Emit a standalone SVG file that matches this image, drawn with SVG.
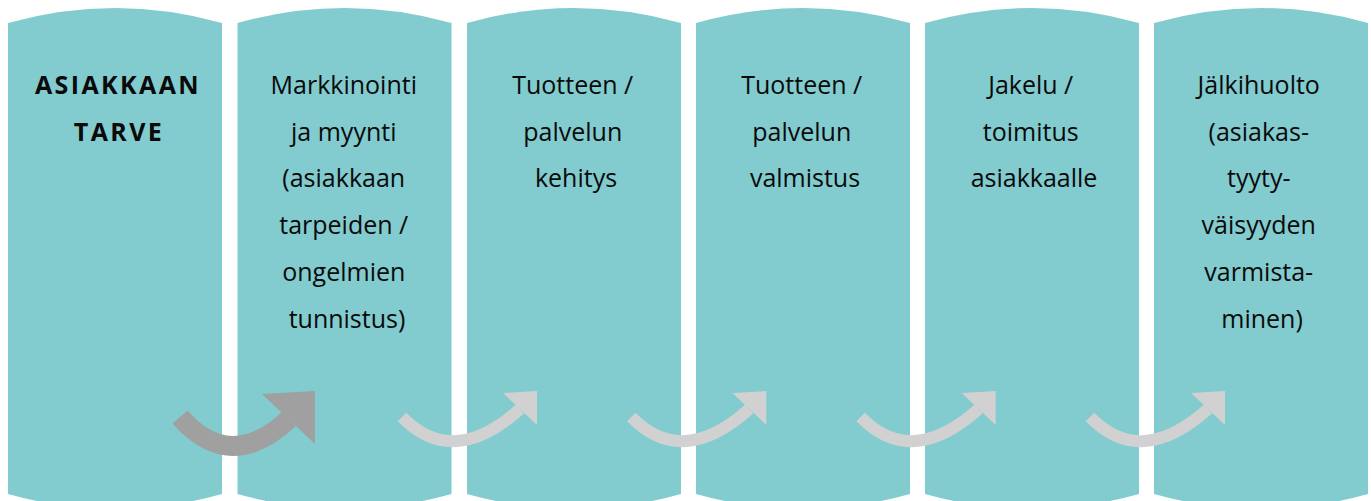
<svg xmlns="http://www.w3.org/2000/svg" width="1371" height="501" viewBox="0 0 1371 501">
  <defs>
    <style>
      .panel { fill: #82CBCE; }
      .lbl { font-family: "Open Sans", "Liberation Sans", sans-serif; font-size: 25px; fill: #0A0A0A; text-anchor: middle; }
      .head { font-weight: bold; letter-spacing: 2.4px; }
      .dark { fill: none; stroke: #A0A0A0; stroke-width: 20; }
      .darkhead { fill: #A0A0A0; }
      .light { fill: none; stroke: #D1D1D1; stroke-width: 12; }
      .lighthead { fill: #D1D1D1; }
    </style>
    <path id="panelShape" class="panel" d="M0,23 Q107,-7 214,23 L214,494 Q107,524 0,494 Z"/>
    <g id="lightArrow">
      <path class="light" d="M402,417 Q453,469 520,409"/>
      <polygon class="lighthead" points="503,393 537,391 537,425"/>
    </g>
  </defs>

  <!-- process stages -->
  <g id="stage1">
    <use href="#panelShape" x="8"/>
    <text class="lbl head" x="118" y="94">ASIAKKAAN</text>
    <text class="lbl head" x="119" y="141">TARVE</text>
  </g>
  <g id="stage2">
    <use href="#panelShape" x="237.5"/>
    <text class="lbl" x="347" y="94">
      <tspan x="347" y="94">Markkinointi</tspan>
      <tspan x="347" y="140.7">ja myynti</tspan>
      <tspan x="347" y="187.4">(asiakkaan</tspan>
      <tspan x="347" y="234">tarpeiden /</tspan>
      <tspan x="347" y="281">ongelmien</tspan>
      <tspan x="347" y="327.5">tunnistus)</tspan>
    </text>
  </g>
  <g id="stage3">
    <use href="#panelShape" x="467"/>
    <text class="lbl" x="576" y="94">
      <tspan x="576" y="94">Tuotteen /</tspan>
      <tspan x="576" y="140.7">palvelun</tspan>
      <tspan x="576" y="187.4">kehitys</tspan>
    </text>
  </g>
  <g id="stage4">
    <use href="#panelShape" x="696"/>
    <text class="lbl" x="805" y="94">
      <tspan x="805" y="94">Tuotteen /</tspan>
      <tspan x="805" y="140.7">palvelun</tspan>
      <tspan x="805" y="187.4">valmistus</tspan>
    </text>
  </g>
  <g id="stage5">
    <use href="#panelShape" x="925"/>
    <text class="lbl" x="1034" y="94">
      <tspan x="1034" y="94">Jakelu /</tspan>
      <tspan x="1034" y="140.7">toimitus</tspan>
      <tspan x="1034" y="187.4">asiakkaalle</tspan>
    </text>
  </g>
  <g id="stage6">
    <use href="#panelShape" x="1154"/>
    <text class="lbl" x="1262" y="94">
      <tspan x="1262" y="94">Jälkihuolto</tspan>
      <tspan x="1262" y="140.7">(asiakas-</tspan>
      <tspan x="1262" y="187.4">tyyty-</tspan>
      <tspan x="1262" y="234">väisyyden</tspan>
      <tspan x="1262" y="281">varmista-</tspan>
      <tspan x="1262" y="327.5">minen)</tspan>
    </text>
  </g>

  <!-- curved arrows between stages -->
  <g id="connectors">
    <path class="dark" d="M180,417 Q230,474 289,419"/>
    <polygon class="darkhead" points="262,394 315,391 315,444"/>
    <use href="#lightArrow"/>
    <use href="#lightArrow" x="229.3"/>
    <use href="#lightArrow" x="458.6"/>
    <use href="#lightArrow" x="688"/>
  </g>
</svg>
